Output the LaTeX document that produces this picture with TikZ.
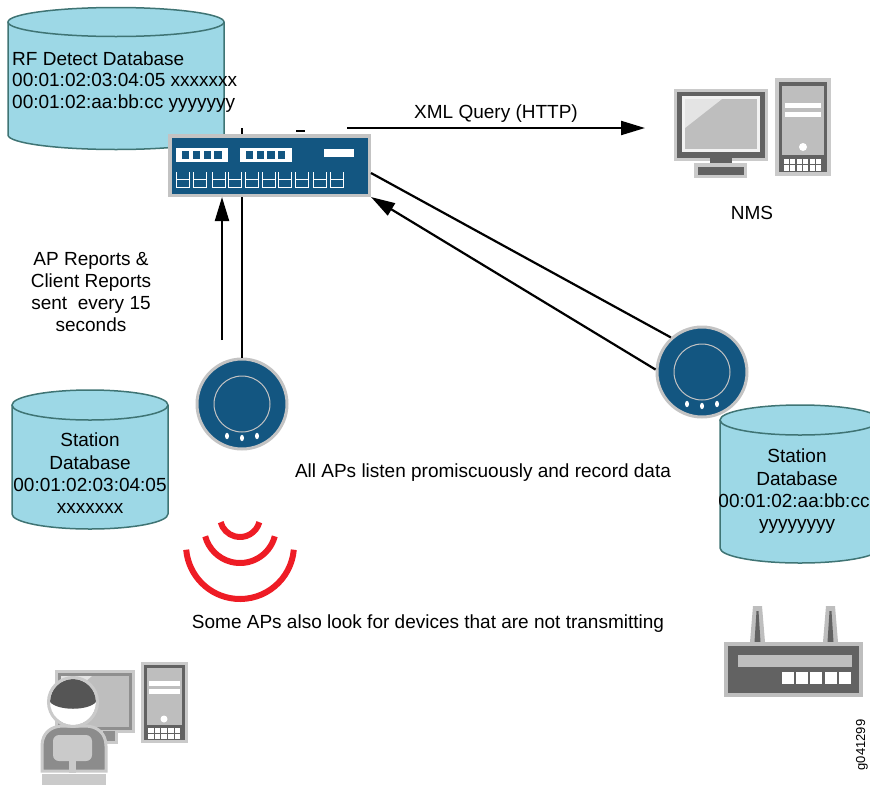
\documentclass[tikz,border=0pt]{standalone}
\usepackage{fontspec}
\setmainfont{Liberation Sans}
\usetikzlibrary{arrows.meta}

\definecolor{cylfill}{HTML}{9DD8E6}
\definecolor{cyledge}{HTML}{3F7474}
\definecolor{apblue}{HTML}{135681}
\definecolor{rim}{HTML}{C3C3C3}
\definecolor{devdark}{HTML}{626262}
\definecolor{devmid}{HTML}{BEBEBE}
\definecolor{devlight}{HTML}{CACACA}
\definecolor{devpale}{HTML}{E4E4E4}
\definecolor{hair}{HTML}{555555}
\definecolor{torso}{HTML}{8C8C8C}
\definecolor{wavered}{HTML}{EE1C25}

% database cylinder: centre x, top y, bottom y, x radius, y radius
\newcommand\dbcylinder[5]{%
  \fill[cylfill] (#1-#4,#2) -- (#1-#4,#3)
    arc[start angle=180,end angle=0,x radius=#4,y radius=#5] -- (#1+#4,#2) -- cycle;
  \draw[cyledge,line width=1.5,fill=cylfill] (#1,#2) ellipse[x radius=#4,y radius=#5];
  \draw[cyledge,line width=1.5] (#1-#4,#2) -- (#1-#4,#3)
    arc[start angle=180,end angle=0,x radius=#4,y radius=#5] -- (#1+#4,#2);
}

% inner ring and status lights of an access point node
\newcommand\apmarks[1]{%
  \draw[rim,line width=1] (#1.center) circle[radius=28];
  \fill[white] ([shift={(-15,32)}]#1.center) ellipse[x radius=2,y radius=3.2];
  \fill[white] ([shift={(0,34)}]#1.center) ellipse[x radius=2,y radius=3.2];
  \fill[white] ([shift={(15,32)}]#1.center) ellipse[x radius=2,y radius=3.2];
}

\begin{document}
\begin{tikzpicture}[x=1pt,y=-1pt,
  every node/.style={font=\fontsize{19}{22}\selectfont, inner sep=0pt},
  lbl/.style={anchor=base},
  conn/.style={line width=2.2pt, black},
  arr/.style={conn, -{Triangle[length=24pt,width=14pt]}},
  apnode/.style={circle, fill=apblue, draw=rim, line width=3pt, minimum size=90pt},
  portline/.style={white, line width=1pt}]

\useasboundingbox (0,0) rectangle (870,785);

% ---------- databases ----------
\dbcylinder{116}{22}{135}{108}{14.5}
\dbcylinder{90}{405}{514}{78}{15}
\dbcylinder{800}{420}{548}{80}{15}

\node[lbl, anchor=base west] (rf1) at (12,65) {RF Detect Database};
\node[lbl, anchor=base west] (rf2) at (12,86.5) {00:01:02:03:04:05 xxxxxxx};
\node[lbl, anchor=base west] (rf3) at (12,108) {00:01:02:aa:bb:cc yyyyyyy};

\node[lbl] (sdl1) at (90,446) {Station};
\node[lbl] (sdl2) at (90,469) {Database};
\node[lbl] (sdl3) at (90,491.5) {00:01:02:03:04:05};
\node[lbl] (sdl4) at (90,513.5) {xxxxxxx};

\node[lbl] (sdr1) at (797,462) {Station};
\node[lbl] (sdr2) at (797,485) {Database};
\node[lbl] (sdr3) at (794,507.5) {00:01:02:aa:bb:cc};
\node[lbl] (sdr4) at (797,529.5) {yyyyyyyy};

% ---------- access points ----------
\node[apnode] (ap1) at (242,404) {};
\node[apnode] (ap2) at (702,372) {};
\apmarks{ap1}
\apmarks{ap2}

% uplink running up behind the controller
\coordinate (uplink) at (242,128);
\draw[conn] (ap1.north) -- (uplink);
\draw[line width=1.5pt] (296,131) -- (305,131);

% ---------- controller ----------
\node[rectangle, fill=apblue, draw=rim, line width=3.5pt,
      minimum width=199.5pt, minimum height=59.5pt] (sw) at (269.5,165.5) {};
\fill[white] (176,148) rectangle (228,162);
\fill[white] (240,148) rectangle (292,162);
\fill[white] (324,149) rectangle (354,157);
\foreach \i in {0,...,3}{
  \fill[apblue] (182+\i*10.8,151) rectangle ++(7.4,8);
  \fill[apblue] (246+\i*10.6,151) rectangle ++(7.4,8);
}
\foreach \px in {176,193,212,228,245,262,278,295,313,330}{
  \draw[portline] (\px,172) -- (\px,187) -- (\px+13,187) -- (\px+13,172);
  \draw[portline] (\px,179.5) -- (\px+13,179.5);
}

% ---------- NMS ----------
\fill[devlight] (674,89) rectangle (768,161);
\fill[devdark] (677,92) rectangle (765,158);
\fill[white!95!black] (682,96) rectangle (760,152);
\fill[devmid] (685,99) rectangle (757,149);
\fill[devpale] (685,99) -- (722,99) -- (685,128) -- cycle;
\fill[devdark] (710,157) rectangle (732,167);
\fill[devlight] (694,163) rectangle (747,178);
\fill[devdark] (697.5,166.5) rectangle (743.5,174.5);

\fill[devlight] (775,78) rectangle (831,176);
\fill[devdark] (779,82) rectangle (827,172);
\fill[devmid] (782,86) rectangle (824,155);
\fill[white] (785,103) rectangle (821,108);
\fill[white] (785,112) rectangle (821,117);
\fill[white] (803,147) circle[radius=4];
\foreach \c in {0,...,5}{
  \fill[white] (783.5+\c*6.5,158.5) rectangle ++(5.3,5.3);
  \fill[white] (783.5+\c*6.5,165.3) rectangle ++(5.3,5.3);
}
\node[lbl] (nmslbl) at (752,219) {NMS};

% ---------- connectors ----------
\coordinate (rep) at (222,340);
\coordinate (xmlfrom) at (347,128);
\coordinate (xmlto) at (645,128);
\draw[arr] (rep) -- (rep |- sw.south);
\draw[arr] (xmlfrom) -- (xmlto);
\draw[conn] ([yshift=-7.5pt]sw.east) -- (ap2.132);
\draw[arr] (ap2.177) -- (sw.south east);

\node[lbl] (xmllbl) at (496,118) {XML Query (HTTP)};

\node[lbl] (rep1) at (91,265) {AP Reports \&};
\node[lbl] (rep2) at (91,287) {Client Reports};
\node[lbl] (rep3) at (91,309) {sent\ \ every 15};
\node[lbl] (rep4) at (91,331) {seconds};

\node[lbl] (listen) at (483,477) {All APs listen promiscuously and record data};
\node[lbl] (probe) at (428,628) {Some APs also look for devices that are not transmitting};

% ---------- radio waves ----------
\begin{scope}[wavered, line width=6pt]
  \draw (259.32,522.18) arc[start angle=15,end angle=165,radius=20];
  \draw (274.77,536.32) arc[start angle=15,end angle=165,radius=36];
  \draw (293.79,549.71) arc[start angle=5,end angle=175,radius=54];
\end{scope}

% ---------- client workstation ----------
\fill[devlight] (55,670) rectangle (135,733);
\fill[devmid!75!black] (58,673) rectangle (132,730);
\fill[devmid] (61,676) rectangle (129,727);
\fill[devpale] (61,676) -- (92,676) -- (61,702) -- cycle;
\fill[devlight] (100,730) rectangle (118,744);
\fill[devmid!75!black] (103,731) rectangle (115,741);

\fill[devlight] (141,662) rectangle (188,743);
\fill[devdark] (144,665) rectangle (185,740);
\fill[devmid] (147,668) rectangle (182,725);
\fill[white] (149,681) rectangle (180,686);
\fill[white] (149,689) rectangle (180,694);
\fill[white] (164,719) circle[radius=3.5];
\foreach \c in {0,...,4}{
  \fill[white] (148+\c*6.7,728) rectangle ++(5.5,4.6);
  \fill[white] (148+\c*6.7,734) rectangle ++(5.5,4.6);
}

% person
\draw[devlight, line width=3pt, fill=torso]
  (42,771) -- (42,746) .. controls (42,733) and (51,726) .. (63,726)
  -- (85,726) .. controls (97,726) and (106,733) .. (106,746) -- (106,771) -- cycle;
\fill[devlight, rounded corners=6pt] (53,735) rectangle (92,761);
\fill[devlight] (69,761) rectangle (76,773);
\fill[devlight] (42,774) rectangle (106,785);
\fill[white] (73,702) circle[radius=23];
\fill[hair] (50,702) arc[start angle=180,end angle=360,radius=23]
  .. controls (88,711) and (58,711) .. (50,702) -- cycle;
\draw[devlight, line width=3pt] (73,702) circle[radius=24.5];

% ---------- rogue access point ----------
\fill[devmid] (750,642) -- (753,606) -- (762,606) -- (765,642) -- cycle;
\fill[devdark] (754.5,642) -- (756.5,611) -- (758.5,611) -- (760.5,642) -- cycle;
\fill[devmid] (823,642) -- (826,606) -- (835,606) -- (838,642) -- cycle;
\fill[devdark] (827.5,642) -- (829.5,611) -- (831.5,611) -- (833.5,642) -- cycle;
\fill[devmid] (724,642) rectangle (863,697);
\fill[devdark] (728,646) rectangle (859,693);
\fill[devmid] (738,655) rectangle (852,667);
\foreach \c in {0,...,4}{
  \fill[white] (782+\c*14.2,672) rectangle ++(12,12);
}

\node[font=\fontsize{13}{15}\selectfont, rotate=90] (figid) at (862,745) {g041299};

\end{tikzpicture}
\end{document}
